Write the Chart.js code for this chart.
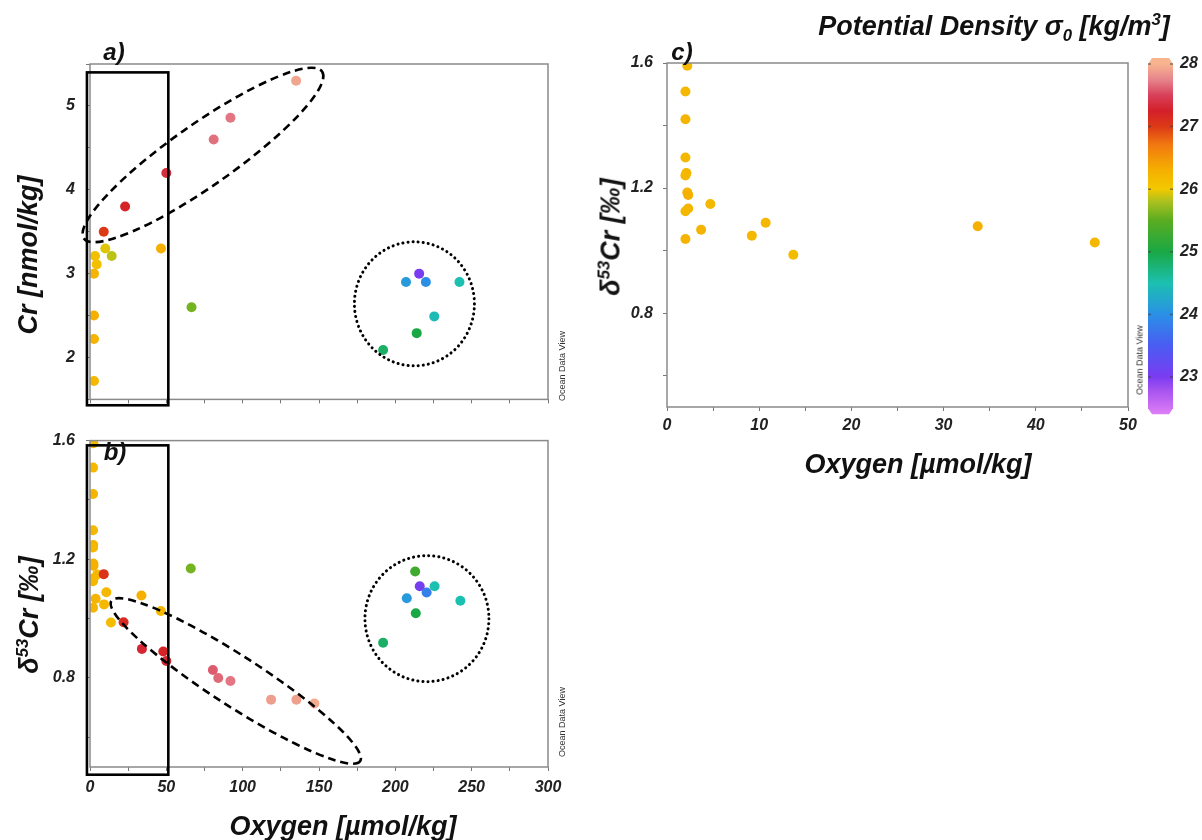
<!DOCTYPE html>
<html>
<head>
<meta charset="utf-8">
<title>Cr and d53Cr vs oxygen</title>
<script src="https://cdn.jsdelivr.net/npm/chart.js@4.4.1/dist/chart.umd.min.js"></script>
<style>
  html, body { margin: 0; padding: 0; background: #fff; }
  #page { position: relative; width: 1202px; height: 840px; overflow: hidden;
          font-family: "Liberation Sans", Arial, sans-serif; }
  .pane { position: absolute; }
  .lbl { position: absolute; font-weight: bold; font-style: italic; color: #111;
         white-space: nowrap; transform: translate(-50%, -50%); line-height: 1; }
  .rot { transform: translate(-50%, -50%) rotate(-90deg); }
  .odv { position: absolute; font-size: 9px; color: #333; white-space: nowrap;
         transform: translate(-50%, -50%) rotate(-90deg); line-height: 1; }
  sup, sub { font-size: 62%; line-height: 0; }
</style>
</head>
<body>
<div id="page">
  <canvas id="chartA" class="pane" width="600" height="420" style="left:0;top:0"></canvas>
  <canvas id="chartB" class="pane" width="600" height="420" style="left:0;top:420px"></canvas>
  <canvas id="chartC" class="pane" width="602" height="480" style="left:600px;top:0"></canvas>

  <div class="lbl" style="left:114px;top:52px;font-size:24px">a)</div>
  <div class="lbl" style="left:115px;top:452px;font-size:24px">b)</div>
  <div class="lbl" style="left:682px;top:52px;font-size:24px">c)</div>

  <div class="lbl rot" style="left:28px;top:255px;font-size:27px">Cr [nmol/kg]</div>
  <div class="lbl rot" style="left:29px;top:615px;font-size:27px">&delta;<sup>53</sup>Cr [&permil;]</div>
  <div class="lbl rot" style="left:611px;top:237px;font-size:27px">&delta;<sup>53</sup>Cr [&permil;]</div>

  <div class="lbl" style="left:343px;top:826px;font-size:27px">Oxygen [&micro;mol/kg]</div>
  <div class="lbl" style="left:918px;top:464px;font-size:27px">Oxygen [&micro;mol/kg]</div>

  <div class="lbl" style="left:994px;top:26px;font-size:27px">Potential Density &sigma;<sub>0</sub> [kg/m<sup>3</sup>]</div>

  <div class="odv" style="left:562px;top:366px">Ocean Data View</div>
  <div class="odv" style="left:562px;top:722px">Ocean Data View</div>
  <div class="odv" style="left:1140px;top:360px">Ocean Data View</div>
</div>

<script>
// ---- data ----

// panel a: Cr concentration
const crOxygen = [135, 92, 81, 50, 23, 9, 10, 3.3, 14.2, 4.4, 2.6, 46.5, 66.5, 2.6, 2.6, 2.6,
                  215.6, 207, 220, 242, 225.5, 214, 192];
const crConc   = [5.3, 4.86, 4.6, 4.2, 3.8, 3.5, 3.3, 3.21, 3.21, 3.11, 3.0, 3.3, 2.6, 2.5, 2.22, 1.72,
                  3.0, 2.9, 2.9, 2.9, 2.49, 2.29, 2.09];
const crSigma  = [27.92, 27.7, 27.68, 27.35, 27.2, 27.0, 25.95, 26.1, 25.85, 26.1, 26.25, 26.3, 25.6, 26.3, 26.25, 26.2,
                  23.0, 24.1, 24.0, 24.5, 24.45, 25.0, 24.85];

// low-oxygen samples (panel c, also in panel b)
const lowO2Oxygen = [2.2, 2.0, 2.0, 2.0, 2.1, 2.0, 2.2, 2.3, 2.3, 2.0, 4.7, 3.7, 2.0, 9.2, 10.7, 13.7, 33.7, 46.4];
const lowO2D53    = [1.591, 1.509, 1.42, 1.298, 1.248, 1.24, 1.186, 1.178, 1.135, 1.126, 1.149, 1.067, 1.037,
                     1.048, 1.089, 0.987, 1.078, 1.026];
const lowO2Sigma  = [26.2, 26.2, 26.25, 26.2, 26.25, 26.2, 26.25, 26.3, 26.25, 26.2, 26.2, 26.25, 26.25,
                     26.2, 26.2, 26.15, 26.3, 26.2];

// remaining samples of panel b
const otherOxygen = [66, 9, 22, 34, 48, 50, 80.5, 84, 92, 118.6, 135.2, 147, 213, 216, 225.7, 220.5, 207.5, 242.6, 213.4, 192];
const otherD53    = [1.169, 1.15, 0.988, 0.898, 0.889, 0.857, 0.827, 0.8, 0.79, 0.727, 0.727, 0.714,
                     1.159, 1.109, 1.109, 1.088, 1.069, 1.06, 1.018, 0.919];
const otherSigma  = [25.6, 27.05, 27.15, 27.3, 27.2, 27.3, 27.6, 27.65, 27.7, 27.88, 27.9, 27.95,
                     25.3, 23.05, 24.5, 23.85, 24.1, 24.5, 25.0, 24.85];

// tick labels
const oxygenWideLabels = [0, 50, 100, 150, 200, 250, 300];
const oxygenLowLabels  = [0, 10, 20, 30, 40, 50];
const crLabels         = [2, 3, 4, 5];
const d53Labels        = [0.8, 1.2, 1.6];
const sigmaLabels      = [23, 24, 25, 26, 27, 28];

// ODV-like rainbow palette for potential density
const sigmaStops  = [22.4, 22.8, 23.0, 23.5, 24.0, 24.5, 25.0, 25.5, 25.8, 26.0, 26.3, 26.7, 27.0, 27.25, 27.5, 27.75, 28.0];
const sigmaColors = ['#e07ef5', '#a452f0', '#7a3cf0', '#4a5cf2', '#2a90e6', '#1cc0b0', '#1aa845', '#5aac20',
                     '#aac020', '#f2c800', '#f5b000', '#f27a10', '#dc3a16', '#d41f2a', '#d8405a', '#e6848c', '#f7b48e'];

function hexRgb(h) {
    return [parseInt(h.slice(1, 3), 16), parseInt(h.slice(3, 5), 16), parseInt(h.slice(5, 7), 16)];
}
function sigmaColor(s) {
    if (s <= sigmaStops[0]) return sigmaColors[0];
    for (let i = 1; i < sigmaStops.length; i++) {
        if (s <= sigmaStops[i]) {
            const t = (s - sigmaStops[i - 1]) / (sigmaStops[i] - sigmaStops[i - 1]);
            const a = hexRgb(sigmaColors[i - 1]), b = hexRgb(sigmaColors[i]);
            const c = a.map((v, k) => Math.round(v + (b[k] - v) * t));
            return 'rgb(' + c.join(',') + ')';
        }
    }
    return sigmaColors[sigmaColors.length - 1];
}

function points(xs, ys) {
    return xs.map((x, i) => ({ x: x, y: ys[i] }));
}

const tickFont = { family: 'Liberation Sans', size: 16, style: 'italic', weight: 'bold' };
const near = (list, v) => list.find(t => Math.abs(t - v) < 1e-6);

// frame, boxes, ellipses, circles and colour bar
const marksPlugin = {
    id: 'marks',
    afterDraw(chart, args, opts) {
        const ctx = chart.ctx;
        const xs = chart.scales.x, ys = chart.scales.y;
        const a = chart.chartArea;
        ctx.save();
        ctx.strokeStyle = '#8a8a8a';
        ctx.lineWidth = 1.5;
        ctx.strokeRect(a.left, a.top, a.right - a.left, a.bottom - a.top);

        ctx.strokeStyle = '#000';
        (opts.boxes || []).forEach(b => {
            const x0 = xs.getPixelForValue(b.x[0]), x1 = xs.getPixelForValue(b.x[1]);
            const y0 = ys.getPixelForValue(b.y[1]), y1 = ys.getPixelForValue(b.y[0]);
            ctx.setLineDash([]);
            ctx.lineWidth = 2.6;
            ctx.strokeRect(x0, y0, x1 - x0, y1 - y0);
        });
        (opts.ellipses || []).forEach(e => {
            const x1 = xs.getPixelForValue(e.from[0]), y1 = ys.getPixelForValue(e.from[1]);
            const x2 = xs.getPixelForValue(e.to[0]), y2 = ys.getPixelForValue(e.to[1]);
            const r = Math.hypot(x2 - x1, y2 - y1) / 2;
            ctx.beginPath();
            ctx.ellipse((x1 + x2) / 2, (y1 + y2) / 2, r, e.half, Math.atan2(y2 - y1, x2 - x1), 0, Math.PI * 2);
            ctx.setLineDash([8, 5]);
            ctx.lineWidth = 2.6;
            ctx.stroke();
        });
        (opts.circles || []).forEach(c => {
            ctx.beginPath();
            ctx.ellipse(xs.getPixelForValue(c.at[0]), ys.getPixelForValue(c.at[1]), c.rx, c.ry, 0, 0, Math.PI * 2);
            ctx.setLineDash([0.1, 5]);
            ctx.lineCap = 'round';
            ctx.lineWidth = 3;
            ctx.stroke();
            ctx.lineCap = 'butt';
        });

        if (opts.colorbar) {
            const ss = chart.scales.sigma;
            const x0 = ss.left + 20, x1 = ss.left + 45;
            const yTop = ss.getPixelForValue(28), yBot = ss.getPixelForValue(22.5);
            const gTop = yTop - 6, gBot = yBot + 6;
            const g = ctx.createLinearGradient(0, gTop, 0, gBot);
            sigmaStops.forEach((s, i) => {
                const off = (ss.getPixelForValue(s) - gTop) / (gBot - gTop);
                g.addColorStop(Math.min(1, Math.max(0, off)), sigmaColors[i]);
            });
            ctx.setLineDash([]);
            ctx.beginPath();
            ctx.moveTo(x0, yTop);
            ctx.lineTo(x0 + 4, gTop);
            ctx.lineTo(x1 - 4, gTop);
            ctx.lineTo(x1, yTop);
            ctx.lineTo(x1, yBot);
            ctx.lineTo(x1 - 4, gBot);
            ctx.lineTo(x0 + 4, gBot);
            ctx.lineTo(x0, yBot);
            ctx.closePath();
            ctx.fillStyle = g;
            ctx.fill();
            ctx.strokeStyle = 'rgba(60,60,60,0.6)';
            ctx.lineWidth = 1.5;
            sigmaLabels.forEach(s => {
                const y = ss.getPixelForValue(s);
                ctx.beginPath();
                ctx.moveTo(x0, y); ctx.lineTo(x0 + 3, y);
                ctx.moveTo(x1 - 3, y); ctx.lineTo(x1, y);
                ctx.stroke();
            });
        }
        ctx.restore();
    }
};

function xAxis(max, step, labels, height, pad) {
    return {
        type: 'linear', min: 0, max: max,
        afterFit(s) { s.height = height; },
        border: { display: false },
        grid: { drawOnChartArea: false, drawTicks: true, tickLength: 4, color: '#777' },
        ticks: {
            stepSize: step, includeBounds: false, padding: pad, maxRotation: 0, autoSkip: false,
            font: tickFont, color: '#222',
            callback: v => (labels && near(labels, v) !== undefined) ? String(near(labels, v)) : ''
        }
    };
}

function yAxis(min, max, step, labels, width, pad, digits) {
    return {
        type: 'linear', min: min, max: max,
        afterFit(s) { s.width = width; },
        border: { display: false },
        grid: { drawOnChartArea: false, drawTicks: true, tickLength: 4, color: '#777' },
        ticks: {
            stepSize: step, includeBounds: false, padding: pad, autoSkip: false,
            font: tickFont, color: '#222',
            callback: v => near(labels, v) !== undefined ? near(labels, v).toFixed(digits) : ''
        }
    };
}

function scatterSet(xs, ys, sig) {
    return {
        data: points(xs, ys),
        backgroundColor: sig.map(sigmaColor),
        borderWidth: 0,
        pointRadius: 5,
        pointHoverRadius: 5
    };
}

const baseOptions = {
    responsive: false,
    animation: false,
    events: [],
    plugins: { legend: { display: false }, tooltip: { enabled: false } }
};

// panel a
new Chart(document.getElementById('chartA'), {
    type: 'scatter',
    data: { datasets: [scatterSet(crOxygen, crConc, crSigma)] },
    options: Object.assign({}, baseOptions, {
        layout: { padding: { left: 0, top: 64, right: 52, bottom: 11 } },
        scales: {
            x: xAxis(300, 25, null, 0, 0),
            y: yAxis(1.5, 5.5, 0.5, crLabels, 90, 11, 0)
        },
        plugins: Object.assign({}, baseOptions.plugins, {
            marks: {
                boxes: [{ x: [-2, 51.3], y: [1.43, 5.4] }],
                ellipses: [{ from: [-4, 3.42], to: [152, 5.41], half: 31 }],
                circles: [{ at: [212.5, 2.64], rx: 60, ry: 62 }]
            }
        })
    }),
    plugins: [marksPlugin]
});

// panel b
new Chart(document.getElementById('chartB'), {
    type: 'scatter',
    data: { datasets: [scatterSet(lowO2Oxygen.concat(otherOxygen), lowO2D53.concat(otherD53), lowO2Sigma.concat(otherSigma))] },
    options: Object.assign({}, baseOptions, {
        layout: { padding: { left: 0, top: 8, right: 52, bottom: 0 } },
        scales: {
            x: xAxis(300, 25, oxygenWideLabels, 73, 7),
            y: yAxis(0.5, 1.6, 0.2, d53Labels, 90, 11, 1)
        },
        plugins: Object.assign({}, baseOptions.plugins, {
            marks: {
                boxes: [{ x: [-2, 51.3], y: [0.474, 1.584] }],
                ellipses: [{ from: [14, 1.06], to: [177, 0.52], half: 25 }],
                circles: [{ at: [220.7, 1.0], rx: 62, ry: 63 }]
            }
        })
    }),
    plugins: [marksPlugin]
});

// panel c with colour bar
new Chart(document.getElementById('chartC'), {
    type: 'scatter',
    data: { datasets: [scatterSet(lowO2Oxygen, lowO2D53, lowO2Sigma)] },
    options: Object.assign({}, baseOptions, {
        layout: { padding: { left: 0, top: 63, right: 0, bottom: 0 } },
        scales: {
            x: xAxis(50, 5, oxygenLowLabels, 73, 5),
            y: yAxis(0.5, 1.6, 0.2, d53Labels, 67, 10, 1),
            sigma: {
                type: 'linear', position: 'right', min: 22.521, max: 28.016,
                afterFit(s) { s.width = 74; },
                border: { display: false },
                grid: { display: false, drawTicks: false },
                ticks: {
                    stepSize: 1, includeBounds: false, padding: 52, autoSkip: false,
                    font: tickFont, color: '#222',
                    callback: v => near(sigmaLabels, v) !== undefined ? String(near(sigmaLabels, v)) : ''
                }
            }
        },
        plugins: Object.assign({}, baseOptions.plugins, {
            marks: { colorbar: true }
        })
    }),
    plugins: [marksPlugin]
});
</script>
</body>
</html>
